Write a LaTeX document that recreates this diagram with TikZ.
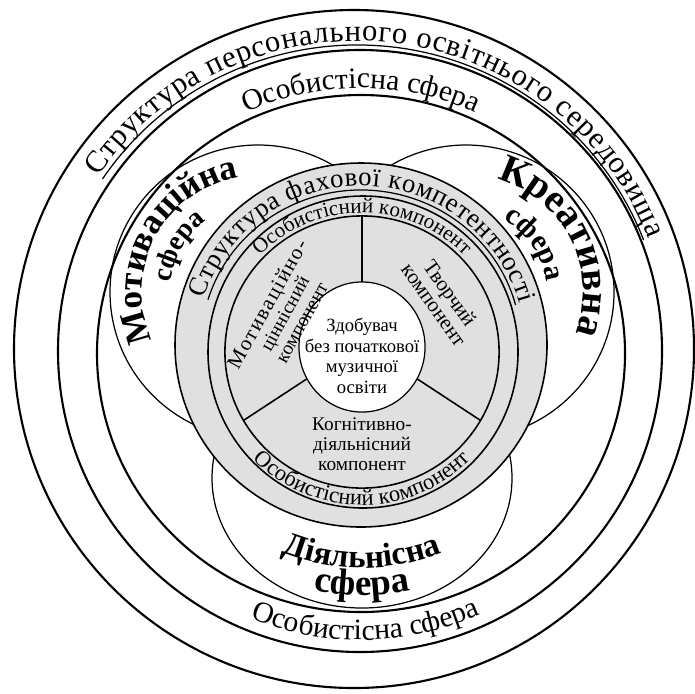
\documentclass[tikz,border=0pt]{standalone}
\usepackage{fontspec}
\setmainfont{Liberation Serif}
\usetikzlibrary{shapes.geometric, calc, decorations.text}
\definecolor{shade}{HTML}{E0E0E0}

% font sizes
\newcommand{\fEnv}{\fontsize{8.7}{8.7}\selectfont}
\newcommand{\fPers}{\fontsize{8.4}{8.4}\selectfont}
\newcommand{\fComp}{\fontsize{7.6}{7.6}\selectfont}
\newcommand{\fPart}{\fontsize{6}{6}\selectfont}
\newcommand{\fMot}{\fontsize{10}{10}\selectfont\bfseries}
\newcommand{\fCre}{\fontsize{11.3}{11.3}\selectfont\bfseries}
\newcommand{\fAct}{\fontsize{9.4}{9.4}\selectfont\bfseries}

\begin{document}
\begin{tikzpicture}[x=0.01cm, y=0.01cm,
    bold line/.style={line width=0.6pt},
    mid line/.style={line width=0.45pt},
    thin line/.style={line width=0.35pt},
    arc text/.style={decorate, decoration={text along path, text align=center, text={#1}}},
    fit text/.style={decorate, decoration={text along path, text align=fit to path, text={#1}}},
    ring/.style={ellipse, draw, inner sep=0pt, outer sep=0pt},
    part text/.style={align=center, inner sep=0pt}
  ]
  \useasboundingbox (0,0) rectangle (695,693);

  % Draw the environment ellipses
  \draw[bold line] (354,344) ellipse [x radius=340, y radius=339];
  \draw[bold line] (360,342) ellipse [x radius=302, y radius=301];
  \draw[bold line] (361,339.5) ellipse [x radius=264, y radius=258.5];

  % Draw the three spheres
  \draw[thin line] (258,401) ellipse [x radius=148, y radius=147];
  \draw[thin line] (466,401) ellipse [x radius=148, y radius=147];
  \draw[thin line] (362,215) ellipse [x radius=150, y radius=130];

  % Underline the environment title
  \draw[thin line] ($(357,344)+(146:307 and 304)$) arc[start angle=146, end angle=21, x radius=307, y radius=304];

  % Draw the competence block
  \draw[mid line, fill=shade] (361,348) ellipse [x radius=186, y radius=182];
  \draw[thin line] ($(361,348)+(163:160 and 155)$) arc[start angle=163, end angle=15, x radius=160, y radius=155];
  \draw[mid line] (363,341) ellipse [x radius=155, y radius=156];
  \node[ring, mid line, minimum width=2.74cm, minimum height=2.72cm] (comp) at (362,341) {};
  \node[ring, thin line, fill=white, minimum width=1.26cm, minimum height=1.30cm] (core) at (362,346) {};

  % Split the components
  \draw[mid line] (core.90) -- (comp.90);
  \draw[mid line] (core.210) -- (comp.210);
  \draw[mid line] (core.330) -- (comp.330);

  % Add the curved titles
  \path[fit text={|\fEnv|Структура персонального освітнього середовища}]
    ($(357,344)+(146:312 and 308)$) arc[start angle=146, end angle=21, x radius=312, y radius=308];
  \path[arc text={|\fPers|Особистісна сфера}]
    ($(361,339.5)+(125:271 and 265.5)$) arc[start angle=125, end angle=55, x radius=271, y radius=265.5];
  \path[arc text={|\fPers|Особистісна сфера}]
    ($(361,339.5)+(236:292 and 286.5)$) arc[start angle=236, end angle=306, x radius=292, y radius=286.5];

  % Add the sphere names
  \path[arc text={|\fMot|Мотиваційна}] ($(258,401)+(213:116)$) arc[start angle=213, end angle=91, radius=116];
  \path[arc text={|\fontsize{7.9}{7.9}\selectfont\bfseries|сфера}] ($(258,401)+(180:88)$) arc[start angle=180, end angle=120, radius=88];
  \path[arc text={|\fCre|Креативна}] ($(466,401)+(87:117)$) arc[start angle=87, end angle=-33, radius=117];
  \path[arc text={|\fontsize{8.4}{8.4}\selectfont\bfseries|сфера}] ($(466,401)+(65:81)$) arc[start angle=65, end angle=5, radius=81];
  \path[arc text={|\fAct|Діяльнісна}] ($(362,341)+(240:216)$) arc[start angle=240, end angle=300, radius=216];
  \path[arc text={|\fontsize{10.5}{10.5}\selectfont\bfseries|сфера}] ($(362,341)+(250:243)$) arc[start angle=250, end angle=290, radius=243];

  % Add the competence titles
  \path[fit text={|\fComp|Структура фахової компетентності}]
    ($(361,348)+(163:164 and 159)$) arc[start angle=163, end angle=15, x radius=164, y radius=159];
  \path[arc text={|\fPart|Особистісний компонент}]
    ($(362,341)+(140:142 and 139)$) arc[start angle=140, end angle=40, x radius=142, y radius=139];
  \path[arc text={|\fontsize{6.4}{6.4}\selectfont|Особистісний компонент}]
    ($(362,341)+(220:153 and 153)$) arc[start angle=220, end angle=320, x radius=153, y radius=153];

  % Add the component texts
  \node[part text, font=\fontsize{5.5}{5.5}\selectfont, rotate=61] (valuepart) at (284,380)
    {{\fontsize{6}{5.5}\selectfont\addfontfeature{LetterSpace=8}Мотиваційно-}\\ціннісний\\компонент};
  \node[part text, font=\fontsize{6}{5.6}\selectfont, rotate=-54.5] (creativepart) at (442,394) {Творчий\\компонент};
  \node[part text, font=\fontsize{5.5}{5.7}\selectfont] (activepart) at (362,249) {Когнітивно-\\діяльнісний\\компонент};
  \node[part text, font=\fontsize{5.3}{5.9}\selectfont] (learner) at (362,337) {Здобувач\\без початкової\\музичної\\освіти};
\end{tikzpicture}
\end{document}
